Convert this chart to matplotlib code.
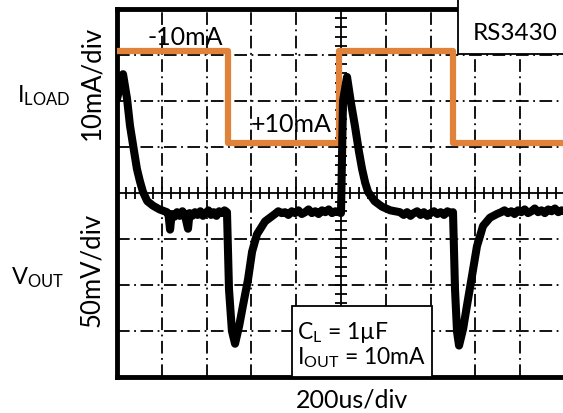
import matplotlib
matplotlib.use("Agg")
import matplotlib.pyplot as plt
from matplotlib.patches import Rectangle
import numpy as np

plt.rcParams['font.family'] = ['Lato', 'DejaVu Sans']
plt.rcParams['mathtext.fontset'] = 'custom'
plt.rcParams['mathtext.rm'] = 'Lato'
plt.rcParams['mathtext.it'] = 'Lato:italic'

# Load current steps (time in us, current in mA)
iload_t = [0, 495, 992, 1500, 2000]
iload_ma = [-10, 10, -10, 10, 10]

# Output voltage deviation (time in us, mV)
vout_t = [0, 27, 45, 58, 75, 89, 103, 116, 135, 161, 190, 223,
          230, 237, 244, 256, 268, 280, 292, 304, 317, 324, 336, 348, 360,
          372, 384, 396, 408, 420, 432, 444, 456, 468, 480, 491,
          500, 513, 527, 545, 562, 585, 603, 625, 661, 705,
          720, 735, 750, 765, 780, 795, 810, 825, 840, 855, 870, 885, 900,
          915, 930, 945, 960, 975, 990, 1000,
          1009, 1027, 1045, 1062, 1080, 1094, 1108, 1121, 1150, 1183, 1220, 1263,
          1280, 1295, 1310, 1325, 1340, 1355, 1370, 1385, 1400, 1415, 1430,
          1445, 1460, 1475, 1490, 1500,
          1509, 1518, 1527, 1545, 1562, 1585, 1607, 1634, 1665, 1696,
          1715, 1730, 1745, 1760, 1775, 1790, 1805, 1820, 1835, 1850, 1865,
          1880, 1895, 1910, 1925, 1940, 1955, 1970, 1985, 2000]
vout_mv = [125, 152, 125, 96, 70, 49, 35, 24, 14, 9, 5, 2,
           -1, -17, 0, -3, 2, -2, 3, -2, -16, 1, -2, 2, -1,
           3, -2, 1, 4, -1, 2, -2, 3, 1, 4, 2,
           -82, -127, -141, -122, -100, -71, -41, -22, -8, 0,
           3, 1, 2, -1, 3, 1, 4, 0, 2, 5, 1, 3, 0,
           4, 2, 5, 1, 3, 2, 1,
           123, 149, 120, 96, 68, 49, 34, 24, 14, 8, 4, 2,
           -1, 2, -2, 1, 3, -1, 2, -2, 1, 3, 0,
           2, -1, 3, 1, 2,
           -82, -128, -143, -125, -100, -67, -35, -13, -4, 0,
           2, 4, 1, 3, 0, 4, 2, 5, 1, 3, 6,
           2, 4, 1, 5, 3, 6, 2, 4, 3]

# map onto scope divisions
i_div = 6.08 - np.array(iload_ma) / 10.0
v_div = 3.543 + np.array(vout_mv) / 50.0

fig = plt.figure(figsize=(5.63, 4.14), dpi=100)
ax = fig.add_axes([117 / 563, 36 / 414, 448 / 563, 368 / 414])
ax.set_xlim(0, 2000)
ax.set_ylim(0, 8)

# scope graticule
grid_ls = (0, (7, 2.5, 1, 2.5))
for gx in range(200, 2000, 200):
    if gx != 1000:
        ax.axvline(gx, color='black', lw=1.3, ls=grid_ls, zorder=1)
for gy in range(1, 8):
    if gy != 4:
        ax.axhline(gy, color='black', lw=1.3, ls=grid_ls, zorder=1)
ax.axvline(1000, color='black', lw=1.3, zorder=1)
ax.axhline(4, color='black', lw=1.3, zorder=1)
tx = np.arange(40, 2000, 40)
ax.vlines(tx, 4 - 0.14, 4 + 0.14, color='black', lw=1.3, zorder=1)
ty = np.arange(0.2, 8, 0.2)
ax.hlines(ty, 1000 - 28, 1000 + 28, color='black', lw=1.3, zorder=1)

ax.plot(iload_t, i_div, drawstyle='steps-post', color='#E0823A', lw=4.5,
        solid_joinstyle='round', zorder=3)
ax.plot(vout_t, v_div, color='black', lw=5.8, solid_joinstyle='round',
        solid_capstyle='round', zorder=4)

ax.set_xticks([])
ax.set_yticks([])
for side in ['left', 'top', 'bottom']:
    ax.spines[side].set_linewidth(3.5)
ax.spines['right'].set_visible(False)

ax.text(304, 7.25, '-10mA', fontsize=18, ha='center', va='baseline', zorder=5)
ax.text(777, 5.35, '+10mA', fontsize=18, ha='center', va='baseline', zorder=5)

ax.add_patch(Rectangle((1522, 7.02), 600, 1.2, facecolor='white',
                       edgecolor='black', lw=1.3, zorder=6, clip_on=False))
ax.text(1777, 7.5, 'RS3430', fontsize=17.5, ha='center', va='center', zorder=7)

ax.add_patch(Rectangle((781, 0), 625, 1.54, facecolor='white',
                       edgecolor='black', lw=1.3, zorder=6))
ax.text(802, 0.98, r'C$_\mathregular{L}$ = 1µF', fontsize=16.5, ha='left',
        va='center', zorder=7)
ax.text(802, 0.45, r'I$_\mathregular{OUT}$ = 10mA', fontsize=16.5, ha='left',
        va='center', zorder=7)

fig.text(92 / 563, 1 - 83 / 414, '10mA/div', rotation=90, fontsize=18.5,
         ha='center', va='center')
fig.text(92 / 563, 1 - 270 / 414, '50mV/div', rotation=90, fontsize=18.5,
         ha='center', va='center')
fig.text(44 / 563, 1 - 96 / 414, r'I$_\mathregular{LOAD}$', fontsize=17,
         ha='center', va='center')
fig.text(38 / 563, 1 - 278 / 414, r'V$_\mathregular{OUT}$', fontsize=17,
         ha='center', va='center')
fig.text(352 / 563, 1 - 400 / 414, '200us/div', fontsize=18,
         ha='center', va='center')

fig.savefig('out.png', dpi=100)
